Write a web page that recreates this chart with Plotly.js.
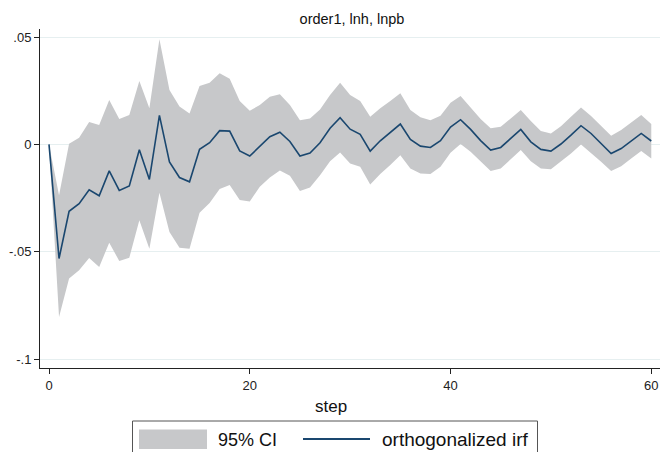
<!DOCTYPE html>
<html>
<head>
<meta charset="utf-8">
<script src="https://cdn.plot.ly/plotly-3.0.1.min.js"></script>
<style>html,body{margin:0;padding:0;background:#fff;}#chart{width:661px;height:452px;}</style>
</head>
<body>
<div id="chart"></div>
<script>
// ---- data ----
var steps = [0,1,2,3,4,5,6,7,8,9,10,11,12,13,14,15,16,17,18,19,20,21,22,23,24,25,26,27,28,29,30,
             31,32,33,34,35,36,37,38,39,40,41,42,43,44,45,46,47,48,49,50,51,52,53,54,55,56,57,58,59,60];
var irf = [0,-0.0531,-0.0311,-0.0276,-0.0211,-0.0239,-0.0123,-0.0214,-0.0193,-0.0025,-0.0163,
           0.0135,-0.0081,-0.0154,-0.0174,-0.0023,0.0008,0.0064,0.0062,-0.0030,-0.0054,
           -0.0009,0.0036,0.0057,0.0014,-0.0054,-0.0040,0.0008,0.0075,0.0124,0.0071,
           0.0047,-0.0031,0.0017,0.0054,0.0095,0.0023,-0.0008,-0.0014,0.0017,0.0081,
           0.0115,0.0070,0.0018,-0.0026,-0.0014,0.0028,0.0070,0.0012,-0.0023,-0.0031,
           0.0002,0.0043,0.0087,0.0051,0.0005,-0.0042,-0.0019,0.0017,0.0051,0.0016];
var ciUpper = [0,-0.0236,0.0003,0.0031,0.0104,0.0090,0.0207,0.0118,0.0137,0.0295,0.0168,
               0.0489,0.0253,0.0176,0.0144,0.0272,0.0287,0.0331,0.0306,0.0202,0.0157,
               0.0183,0.0222,0.0233,0.0183,0.0113,0.0121,0.0163,0.0230,0.0287,0.0230,
               0.0202,0.0129,0.0168,0.0202,0.0238,0.0160,0.0126,0.0113,0.0134,0.0194,
               0.0225,0.0172,0.0118,0.0075,0.0082,0.0121,0.0160,0.0109,0.0062,0.0051,
               0.0085,0.0129,0.0172,0.0132,0.0085,0.0040,0.0067,0.0101,0.0137,0.0095];
var ciLower = [0,-0.0803,-0.0624,-0.0586,-0.0528,-0.0570,-0.0458,-0.0542,-0.0527,-0.0353,-0.0485,
               -0.0225,-0.0407,-0.0481,-0.0486,-0.0318,-0.0272,-0.0207,-0.0189,-0.0259,-0.0266,
               -0.0197,-0.0154,-0.0121,-0.0146,-0.0217,-0.0200,-0.0143,-0.0078,-0.0038,-0.0089,
               -0.0104,-0.0186,-0.0138,-0.0096,-0.0050,-0.0112,-0.0135,-0.0138,-0.0104,-0.0039,
               0.0002,-0.0034,-0.0081,-0.0124,-0.0112,-0.0070,-0.0026,-0.0078,-0.0112,-0.0116,
               -0.0081,-0.0042,0.0000,-0.0039,-0.0081,-0.0124,-0.0101,-0.0065,-0.0031,-0.0065];
var xTickVals = [0,20,40,60];
var xTickText = ['0','20','40','60'];
var yTickVals = [-0.1,-0.05,0,0.05];
var yTickText = ['-.1','-.05','0','.05'];
var chartTitle = 'order1, lnh, lnpb';
var xTitle = 'step';
var legendNames = ['95% CI','orthogonalized irf'];

// ---- style / geometry ----
var W = 661, H = 452;
var M = {l:40, r:1, t:29, b:84};
var PW = W - M.l - M.r, PH = H - M.t - M.b;
function px(x){ return (x - M.l) / PW; }
function py(y){ return (H - M.b - y) / PH; }
var bandColor = '#c7c8ca';
var lineColor = '#1a476f';
var FONT = '"Liberation Sans", Arial, Helvetica, sans-serif';

var traces = [
  {x: steps, y: ciLower, type:'scatter', mode:'lines', line:{width:0, color:bandColor},
   showlegend:false, hoverinfo:'skip'},
  {x: steps, y: ciUpper, type:'scatter', mode:'lines', line:{width:0, color:bandColor},
   fill:'tonexty', fillcolor:bandColor, name: legendNames[0], showlegend:false, hoverinfo:'skip'},
  {x: steps, y: irf, type:'scatter', mode:'lines', line:{width:1.6, color:lineColor},
   name: legendNames[1], showlegend:false}
];

var layout = {
  width: W, height: H, autosize:false,
  margin: M,
  paper_bgcolor:'#fff', plot_bgcolor:'#fff',
  font:{family:FONT, color:'#111'},
  showlegend:false,
  title:{text: chartTitle, x: 352/W, xanchor:'center', y: 1 - 19/H, yanchor:'middle',
         font:{size:14.5, family:FONT, color:'#111'}},
  xaxis:{range:[(M.l - 49)/10.038, (W - M.r - 49)/10.038], tickmode:'array', tickvals:xTickVals, ticktext:xTickText,
         showgrid:false, zeroline:false, showline:true, linecolor:'#222', linewidth:1,
         ticks:'outside', ticklen:5, tickcolor:'#222', tickwidth:1,
         tickfont:{size:13, color:'#222'}},
  yaxis:{range:[-0.1 - (368-359.3)/107.4*0.05, 0.05 + (37-29)/107.4*0.05], tickmode:'array', tickvals:yTickVals, ticktext:yTickText,
         showgrid:true, gridcolor:'#e6eff0', gridwidth:1, zeroline:false,
         showline:true, linecolor:'#222', linewidth:1,
         ticks:'outside', ticklen:5, tickcolor:'#222', tickwidth:1,
         tickfont:{size:13, color:'#222'}},
  shapes:[
    {type:'rect', xref:'paper', yref:'paper', x0:px(132.5), x1:px(537.5), y0:py(421), y1:py(470),
     line:{color:'#555', width:1}, fillcolor:'#fff', layer:'above'},
    {type:'rect', xref:'paper', yref:'paper', x0:px(139), x1:px(207), y0:py(429.5), y1:py(449),
     line:{width:0}, fillcolor:bandColor, layer:'above'},
    {type:'line', xref:'paper', yref:'paper', x0:px(303), x1:px(370), y0:py(439), y1:py(439),
     line:{color:lineColor, width:2}, layer:'above'}
  ],
  annotations:[
    {text: xTitle, xref:'paper', yref:'paper', x:px(331), y:py(406), xanchor:'center', yanchor:'middle',
     showarrow:false, font:{size:17, family:FONT, color:'#111'}},
    {text: legendNames[0], xref:'paper', yref:'paper', x:px(216), y:py(440), xanchor:'left', yanchor:'middle',
     showarrow:false, font:{size:18, family:FONT, color:'#111'}},
    {text: legendNames[1], xref:'paper', yref:'paper', x:px(380), y:py(440), xanchor:'left', yanchor:'middle',
     showarrow:false, font:{size:19, family:FONT, color:'#111'}}
  ]
};

Plotly.newPlot('chart', traces, layout, {displayModeBar:false, staticPlot:true});
</script>
</body>
</html>
